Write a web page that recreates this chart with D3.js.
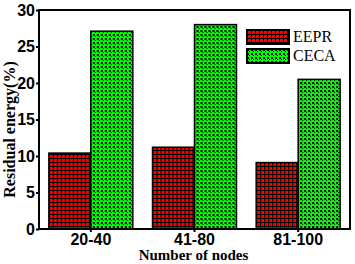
<!DOCTYPE html>
<html>
<head>
<meta charset="utf-8">
<script src="https://d3js.org/d3.v7.min.js"></script>
<style>
  body { margin: 0; background: #fff; }
  svg { font-family: "Liberation Serif", "Times New Roman", serif; }
  .tick text { font-size: 15px; font-weight: bold; fill: #000; }
  .axis path, .axis line { stroke: #000; stroke-width: 2px; }
</style>
</head>
<body>
<svg width="355" height="264"></svg>
<script>
const categories = ["20-40", "41-80", "81-100"];
const seriesNames = ["EEPR", "CECA"];
const eepr = [10.4, 11.2, 9.1];
const ceca = [27.1, 28.0, 20.5];
const yTicks = [0, 5, 10, 15, 20, 25, 30];

const margin = { top: 10, right: 5, bottom: 35, left: 39 };
const width = 355 - margin.left - margin.right;
const height = 264 - margin.top - margin.bottom;

const svg = d3.select("svg");
const defs = svg.append("defs");

// red with black grid
const p1 = defs.append("pattern").attr("id", "pat-eepr")
  .attr("patternUnits", "userSpaceOnUse").attr("width", 4).attr("height", 4);
p1.append("rect").attr("width", 4).attr("height", 4).attr("fill", "#ff0000");
p1.append("rect").attr("x", 0).attr("width", 1).attr("height", 4).attr("fill", "#000");
p1.append("rect").attr("y", 0).attr("width", 4).attr("height", 1).attr("fill", "#000");

// green with black checks
const p2 = defs.append("pattern").attr("id", "pat-ceca")
  .attr("patternUnits", "userSpaceOnUse").attr("width", 4).attr("height", 4);
p2.append("rect").attr("width", 4).attr("height", 4).attr("fill", "#00ff00");
p2.append("rect").attr("x", 0).attr("y", 0).attr("width", 2).attr("height", 2).attr("fill", "#000");
p2.append("rect").attr("x", 2).attr("y", 2).attr("width", 1).attr("height", 1).attr("fill", "#000");

const fills = ["url(#pat-eepr)", "url(#pat-ceca)"];

const g = svg.append("g").attr("transform", `translate(${margin.left},${margin.top})`);

const x0 = d3.scaleBand().domain(categories).range([0, width]).paddingInner(0.19).paddingOuter(0.095);
const x1 = d3.scaleBand().domain(seriesNames).range([0, x0.bandwidth()]);
const y = d3.scaleLinear().domain([0, 30]).range([height, 0]);

const rows = categories.map((c, i) => ({ cat: c, vals: [eepr[i], ceca[i]] }));

const groups = g.selectAll(".grp").data(rows).enter().append("g")
  .attr("transform", d => `translate(${x0(d.cat)},0)`);

groups.selectAll("rect").data(d => d.vals.map((v, j) => ({ v, s: seriesNames[j], j })))
  .enter().append("rect")
  .attr("x", d => x1(d.s))
  .attr("y", d => y(d.v))
  .attr("width", x1.bandwidth())
  .attr("height", d => y(0) - y(d.v))
  .attr("fill", d => fills[d.j])
  .attr("stroke", "#000")
  .attr("stroke-width", 1.5);

// axes
g.append("g").attr("class", "axis")
  .attr("transform", `translate(0,${height})`)
  .call(d3.axisBottom(x0).tickSizeInner(3).tickSizeOuter(0).tickPadding(2))
  .call(a => a.select(".domain").remove());

g.append("g").attr("class", "axis")
  .call(d3.axisLeft(y).tickValues(yTicks).tickSizeInner(3).tickSizeOuter(0).tickPadding(1))
  .call(a => a.select(".domain").remove());

g.selectAll(".axis .tick text").style("font-size", "16px");

// frame
g.append("rect").attr("width", width).attr("height", height)
  .attr("fill", "none").attr("stroke", "#000").attr("stroke-width", 2);

// axis labels
svg.append("text")
  .attr("x", margin.left + width / 2 - 1).attr("y", 260)
  .attr("text-anchor", "middle")
  .style("font-size", "15px").style("font-weight", "bold")
  .text("Number of nodes");

svg.append("text")
  .attr("transform", `translate(15,${margin.top + height / 2 + 10}) rotate(-90)`)
  .attr("text-anchor", "middle")
  .style("font-size", "16px").style("font-weight", "bold")
  .text("Residual energy(%)");

// legend
const legend = svg.selectAll(".legend").data(seriesNames).enter().append("g")
  .attr("transform", (d, i) => `translate(247,${30 + i * 19})`);
legend.append("rect")
  .attr("width", 42).attr("height", 14)
  .attr("fill", (d, i) => fills[i])
  .attr("stroke", "#000").attr("stroke-width", 2);
legend.append("text")
  .attr("x", 46).attr("y", 12)
  .style("font-size", "16px")
  .text(d => d);
</script>
</body>
</html>
